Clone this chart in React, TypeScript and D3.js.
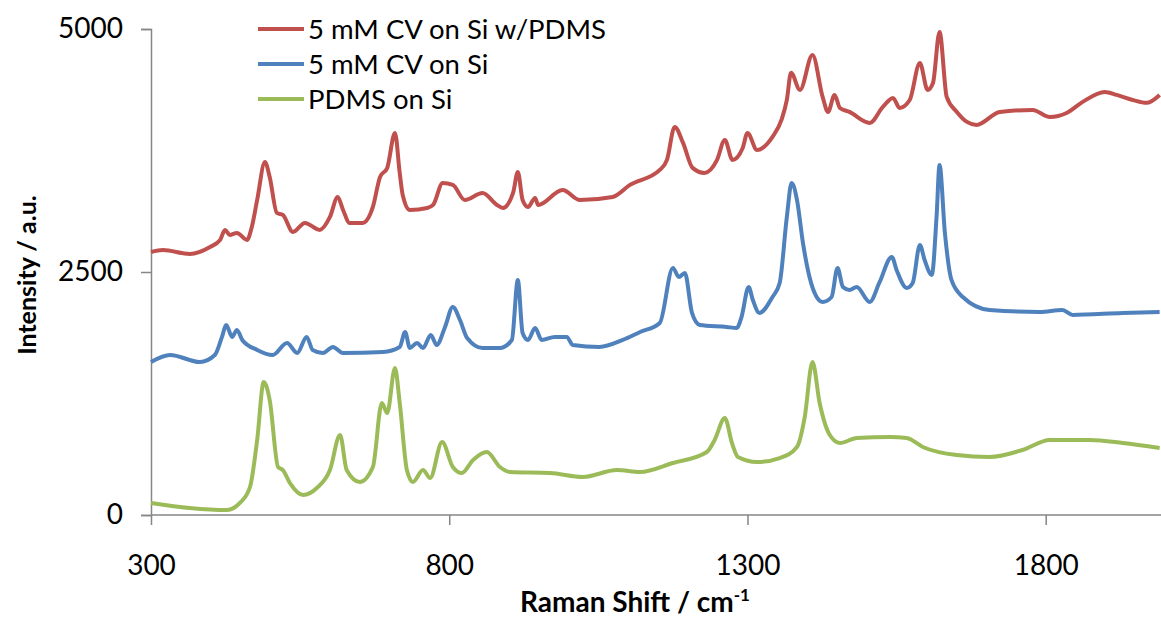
import React, { useEffect, useRef } from 'react';
import * as d3 from 'd3';

// Raman spectra: [wavenumber cm-1, intensity a.u.]
const cvOnSiPdms: [number, number][] = [
  [300, 2706], [320, 2727], [365, 2686], [399, 2758], [416, 2830], [424, 2933], [432, 2881],
  [444, 2902], [461, 2830], [469, 2964], [478, 3241], [491, 3632], [499, 3478], [511, 3108],
  [521, 3087], [538, 2912], [558, 3005], [583, 2933], [600, 3066], [613, 3272], [622, 3138],
  [633, 3005], [655, 3005], [672, 3169], [684, 3478], [696, 3571], [709, 3931], [717, 3519],
  [722, 3293], [734, 3138], [763, 3159], [773, 3190], [789, 3416], [806, 3396], [826, 3241],
  [856, 3313], [880, 3190], [890, 3159], [907, 3313], [915, 3530], [923, 3241], [932, 3169],
  [944, 3262], [949, 3190], [990, 3344], [1019, 3241], [1074, 3272], [1103, 3396], [1153, 3550],
  [1165, 3653], [1178, 3993], [1192, 3828], [1208, 3571], [1228, 3519], [1249, 3653], [1262, 3859],
  [1275, 3653], [1292, 3776], [1300, 3931], [1316, 3756], [1342, 3890], [1357, 4064], [1366, 4270],
  [1373, 4550], [1388, 4373], [1409, 4733], [1426, 4301], [1435, 4147], [1446, 4322], [1455, 4188],
  [1471, 4147], [1505, 4034], [1527, 4198], [1544, 4291], [1555, 4188], [1572, 4270], [1589, 4651],
  [1602, 4373], [1611, 4445], [1622, 4970], [1634, 4301], [1651, 4147], [1668, 4044], [1684, 4013],
  [1723, 4147], [1778, 4167], [1807, 4095], [1835, 4136], [1862, 4250], [1899, 4352], [1919, 4322],
  [1946, 4270], [1969, 4240], [1991, 4322],
];

const cvOnSi: [number, number][] = [
  [300, 1574], [332, 1646], [382, 1574], [407, 1646], [419, 1832], [426, 1955], [436, 1832],
  [444, 1904], [453, 1801], [478, 1698], [504, 1646], [528, 1770], [545, 1667], [561, 1832],
  [571, 1698], [588, 1667], [605, 1729], [622, 1667], [689, 1677], [717, 1729], [726, 1883],
  [734, 1718], [746, 1770], [756, 1718], [769, 1852], [779, 1749], [793, 1935], [806, 2140],
  [818, 2006], [830, 1821], [856, 1718], [885, 1718], [905, 1801], [915, 2418], [923, 1873],
  [932, 1801], [944, 1924], [955, 1801], [977, 1832], [997, 1832], [1007, 1749], [1052, 1729],
  [1091, 1801], [1120, 1883], [1153, 1976], [1175, 2542], [1185, 2449], [1195, 2490], [1207, 2079],
  [1220, 1955], [1265, 1935], [1282, 1924], [1290, 2037], [1302, 2346], [1309, 2212], [1320, 2079],
  [1342, 2243], [1354, 2387], [1366, 3066], [1374, 3416], [1383, 3241], [1393, 2799], [1404, 2449],
  [1416, 2243], [1426, 2192], [1441, 2243], [1451, 2542], [1460, 2346], [1471, 2315], [1483, 2346],
  [1505, 2192], [1521, 2387], [1542, 2655], [1550, 2521], [1567, 2336], [1577, 2387], [1589, 2778],
  [1597, 2624], [1609, 2470], [1617, 3066], [1622, 3602], [1631, 2902], [1642, 2418], [1661, 2243],
  [1706, 2109], [1790, 2089], [1828, 2109], [1845, 2058], [1929, 2079], [1991, 2089],
];

const pdmsOnSi: [number, number][] = [
  [300, 124], [365, 72], [427, 51], [449, 124], [466, 288], [478, 772], [489, 1369], [499, 1183],
  [513, 494], [521, 463], [533, 329], [555, 206], [578, 278], [600, 463], [617, 823], [628, 463],
  [650, 340], [672, 494], [687, 1152], [696, 1050], [709, 1513], [717, 1152], [729, 463], [739, 340],
  [756, 463], [768, 381], [788, 751], [806, 494], [821, 432], [840, 566], [863, 648], [885, 494],
  [902, 442], [969, 432], [1024, 391], [1081, 463], [1120, 442], [1175, 535], [1232, 648],
  [1245, 772], [1262, 998], [1274, 741], [1284, 597], [1316, 545], [1354, 586], [1383, 700],
  [1396, 1008], [1409, 1574], [1421, 1152], [1438, 823], [1455, 741], [1483, 792], [1539, 803],
  [1567, 792], [1594, 700], [1651, 617], [1706, 597], [1761, 669], [1807, 772], [1874, 772],
  [1929, 741], [1991, 689],
];

const seriesNames = ['5 mM CV on Si w/PDMS', '5 mM CV on Si', 'PDMS on Si'];
const seriesColors = ['#C0504D', '#4F81BD', '#9BBB59'];
const xTicks = [300, 800, 1300, 1800];
const yTicks = [0, 2500, 5000];

const App = () => {
  const svgRef = useRef<SVGSVGElement>(null);

  useEffect(() => {
    const svg = d3.select(svgRef.current);
    svg.selectAll('*').remove();
    const font = 'Lato, "Open Sans", sans-serif';

    const xScale = d3.scaleLinear().domain([300, 2000]).range([151, 1165]);
    const yScale = d3.scaleLinear().domain([0, 5000]).range([515, 29]);

    // axes
    const yAxis = d3.axisLeft(yScale).tickValues(yTicks).tickSize(10).tickPadding(18).tickFormat(d3.format('d'));
    const gy = svg.append('g').attr('transform', 'translate(151,0)').call(yAxis);
    const xAxis = d3.axisBottom(xScale).tickValues(xTicks).tickSize(10).tickPadding(30).tickFormat(d3.format('d'));
    const gx = svg.append('g').attr('transform', 'translate(0,515)').call(xAxis);
    [gx, gy].forEach((g) => {
      g.selectAll('path, line').attr('stroke', '#868686').attr('stroke-width', 1.5);
      g.selectAll('text').attr('font-family', font).attr('font-size', 28).attr('fill', '#000');
    });
    gx.select('.domain').attr('d', 'M151,0H1165');

    // spectra
    const myLine = d3
      .line<[number, number]>()
      .x((d) => xScale(d[0]))
      .y((d) => yScale(d[1]))
      .curve(d3.curveMonotoneX);
    svg
      .selectAll('.spectrum')
      .data([cvOnSiPdms, cvOnSi, pdmsOnSi])
      .join('path')
      .attr('class', 'spectrum')
      .attr('d', (d) => myLine(d))
      .attr('fill', 'none')
      .attr('stroke', (d, i) => seriesColors[i])
      .attr('stroke-width', 4)
      .attr('stroke-linejoin', 'round');

    // legend
    const legend = svg.selectAll('.legend').data(seriesNames).join('g').attr('class', 'legend')
      .attr('transform', (d, i) => `translate(258,${29 + i * 35})`);
    legend.append('line').attr('x1', 0).attr('x2', 46).attr('stroke', (d, i) => seriesColors[i]).attr('stroke-width', 4);
    legend.append('text').attr('x', 50).attr('dy', '0.35em').attr('font-family', font).attr('font-size', 27.5)
      .text((d) => d);

    // axis titles
    svg.append('text').attr('transform', 'translate(36,275) rotate(-90)').attr('text-anchor', 'middle')
      .attr('font-family', font).attr('font-size', 25).attr('font-weight', 'bold').text('Intensity / a.u.');
    const xt = svg.append('text').attr('x', 635).attr('y', 612).attr('text-anchor', 'middle')
      .attr('font-family', font).attr('font-size', 28).attr('font-weight', 'bold');
    xt.append('tspan').text('Raman Shift / cm');
    xt.append('tspan').attr('dy', -11).attr('font-size', 17).text('-1');
  }, []);

  return (
    <svg ref={svgRef} width={1161} height={619}
      style={{ position: 'absolute', left: 0, top: 0, background: '#fff' }} />
  );
};

export default App;
